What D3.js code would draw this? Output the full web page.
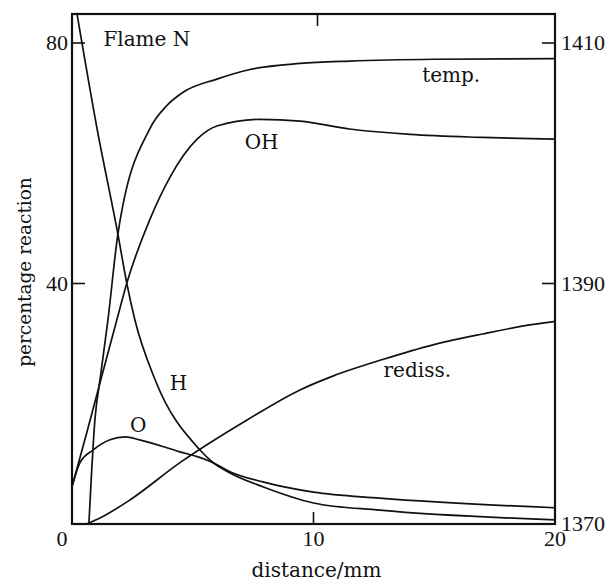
<!DOCTYPE html>
<html>
<head>
<meta charset="utf-8">
<script src="https://cdn.jsdelivr.net/npm/d3@7"></script>
<style>
  html, body { margin: 0; padding: 0; background: #fff; }
  svg text { fill: #111; }
  .num { font-family: "Liberation Serif", "DejaVu Serif", serif; }
  .word { font-family: "DejaVu Serif", "Liberation Serif", serif; }
</style>
</head>
<body>
<svg id="chart" width="608" height="581"></svg>
<script>
// Flame N: species profiles (percentage reaction) and temperature along the flame
const tempDist = [0.7, 0.95, 1.16, 1.49, 1.9, 3.23, 3.93, 4.6, 6.0, 7.37, 9.44, 11.5, 15, 20];
const tempK    = [1370, 1378.7, 1382, 1387, 1394.1, 1402.9, 1404.8, 1405.9, 1407, 1407.8, 1408.3, 1408.5, 1408.65, 1408.7];

const ohDist = [0, 0.6, 1.16, 1.86, 2.28, 3.23, 4.06, 5.18, 6.0, 7.8, 9.44, 11.5, 14, 17, 20];
const ohPct  = [6.2, 15, 23.5, 34, 40.2, 50.7, 57.7, 64, 66.2, 67.3, 67, 65.7, 64.8, 64.3, 64];

const hDist = [0.2, 1.04, 1.9, 2.28, 2.6, 3.44, 5.3, 5.84, 6.54, 7.9, 10, 12.75, 20];
const hPct  = [85, 65.7, 48.2, 39.8, 34, 24, 12.3, 10.2, 8.5, 6.2, 3.5, 2.3, 0.7];

const oDist = [0.02, 0.33, 0.87, 1.57, 2.2, 2.8, 4.47, 5.18, 5.84, 6.54, 7.9, 10, 12.75, 20];
const oPct  = [6.5, 10.2, 12.3, 14, 14.5, 14, 12, 11.2, 10.2, 8.7, 7, 5.3, 4.3, 2.7];

const redissDist = [0.6, 1.16, 2.4, 4.47, 7.25, 9.44, 10.8, 12.9, 14.95, 17.0, 19.1, 20];
const redissPct  = [0, 1, 4, 10.2, 17.3, 22.3, 24.6, 27.4, 29.8, 31.6, 33.2, 33.7];

const xTicks = [0, 10, 20];
const leftTicks = [40, 80];
const rightTicks = [1370, 1390, 1410];

const curveLabels = [
  { text: "Flame N", x: 1.3,  y: 79.5 },
  { text: "temp.",   x: 14.5, y: 73.5 },
  { text: "OH",      x: 7.15, y: 62.3 },
  { text: "H",       x: 4.05, y: 22.3 },
  { text: "rediss.", x: 12.9, y: 24.5 },
  { text: "O",       x: 2.4,  y: 15.3 }
];

const svg = d3.select("#chart");
const L = 72, R = 555, T = 14, B = 524;

const x = d3.scaleLinear().domain([0, 20]).range([L, R]);
const y = d3.scaleLinear().domain([0, 80]).range([B, 43]);
const yR = d3.scaleLinear().domain([1370, 1410]).range([B, 43]);

const ink = "#111";

// frame
svg.append("rect")
  .attr("x", L).attr("y", T).attr("width", R - L).attr("height", B - T)
  .attr("fill", "none").attr("stroke", ink).attr("stroke-width", 2.2);

// inward ticks
const tickLen = 13;
svg.selectAll(".lt").data(leftTicks).enter().append("line")
  .attr("x1", L).attr("x2", L + tickLen)
  .attr("y1", d => y(d)).attr("y2", d => y(d))
  .attr("stroke", ink).attr("stroke-width", 1.6);
svg.selectAll(".rt").data(rightTicks.filter(d => d > 1370)).enter().append("line")
  .attr("x1", R).attr("x2", R - tickLen)
  .attr("y1", d => yR(d)).attr("y2", d => yR(d))
  .attr("stroke", ink).attr("stroke-width", 1.6);
svg.selectAll(".bt").data(xTicks.filter(d => d > 0 && d < 20)).enter().append("line")
  .attr("x1", d => x(d)).attr("x2", d => x(d))
  .attr("y1", B).attr("y2", B - 12)
  .attr("stroke", ink).attr("stroke-width", 1.6);
svg.selectAll(".tt").data(xTicks.filter(d => d > 0 && d < 20)).enter().append("line")
  .attr("x1", d => x(d) + 4).attr("x2", d => x(d) + 4)
  .attr("y1", T).attr("y2", T + 12)
  .attr("stroke", ink).attr("stroke-width", 1.6);

// tick labels
const fsNum = 22, fsWord = 20;
svg.selectAll(".xl").data(xTicks).enter().append("text")
  .attr("class", "num")
  .attr("x", d => d === 0 ? x(d) - 10 : x(d))
  .attr("y", B + 22)
  .attr("text-anchor", "middle")
  .attr("font-size", fsNum)
  .text(d => d);
svg.selectAll(".yl").data(leftTicks).enter().append("text")
  .attr("class", "num")
  .attr("x", L - 4).attr("y", d => y(d) + 7)
  .attr("text-anchor", "end")
  .attr("font-size", fsNum)
  .text(d => d);
svg.selectAll(".rl").data(rightTicks).enter().append("text")
  .attr("class", "num")
  .attr("x", R + 6).attr("y", d => yR(d) + 7)
  .attr("text-anchor", "start")
  .attr("font-size", fsNum)
  .text(d => d);

// axis titles
svg.append("text")
  .attr("class", "word")
  .attr("x", x(10) + 3).attr("y", 577)
  .attr("text-anchor", "middle").attr("font-size", fsWord)
  .text("distance/mm");
svg.append("text")
  .attr("class", "word")
  .attr("transform", `translate(31, ${272}) rotate(-90)`)
  .attr("text-anchor", "middle").attr("font-size", 18.5)
  .text("percentage reaction");

// curves
const lineL = d3.line().x(d => x(d[0])).y(d => y(d[1])).curve(d3.curveMonotoneX);
const lineR = d3.line().x(d => x(d[0])).y(d => yR(d[1])).curve(d3.curveMonotoneX);
const zip = (a, b) => a.map((v, i) => [v, b[i]]);

const series = [
  { pts: zip(tempDist, tempK), gen: lineR },
  { pts: zip(ohDist, ohPct), gen: lineL },
  { pts: zip(hDist, hPct), gen: lineL },
  { pts: zip(oDist, oPct), gen: lineL },
  { pts: zip(redissDist, redissPct), gen: lineL }
];
svg.selectAll(".curve").data(series).enter().append("path")
  .attr("d", s => s.gen(s.pts))
  .attr("fill", "none").attr("stroke", ink).attr("stroke-width", 1.7);

// curve labels
svg.selectAll(".cl").data(curveLabels).enter().append("text")
  .attr("class", "word")
  .attr("x", d => x(d.x)).attr("y", d => y(d.y))
  .attr("font-size", fsWord)
  .text(d => d.text);
</script>
</body>
</html>
